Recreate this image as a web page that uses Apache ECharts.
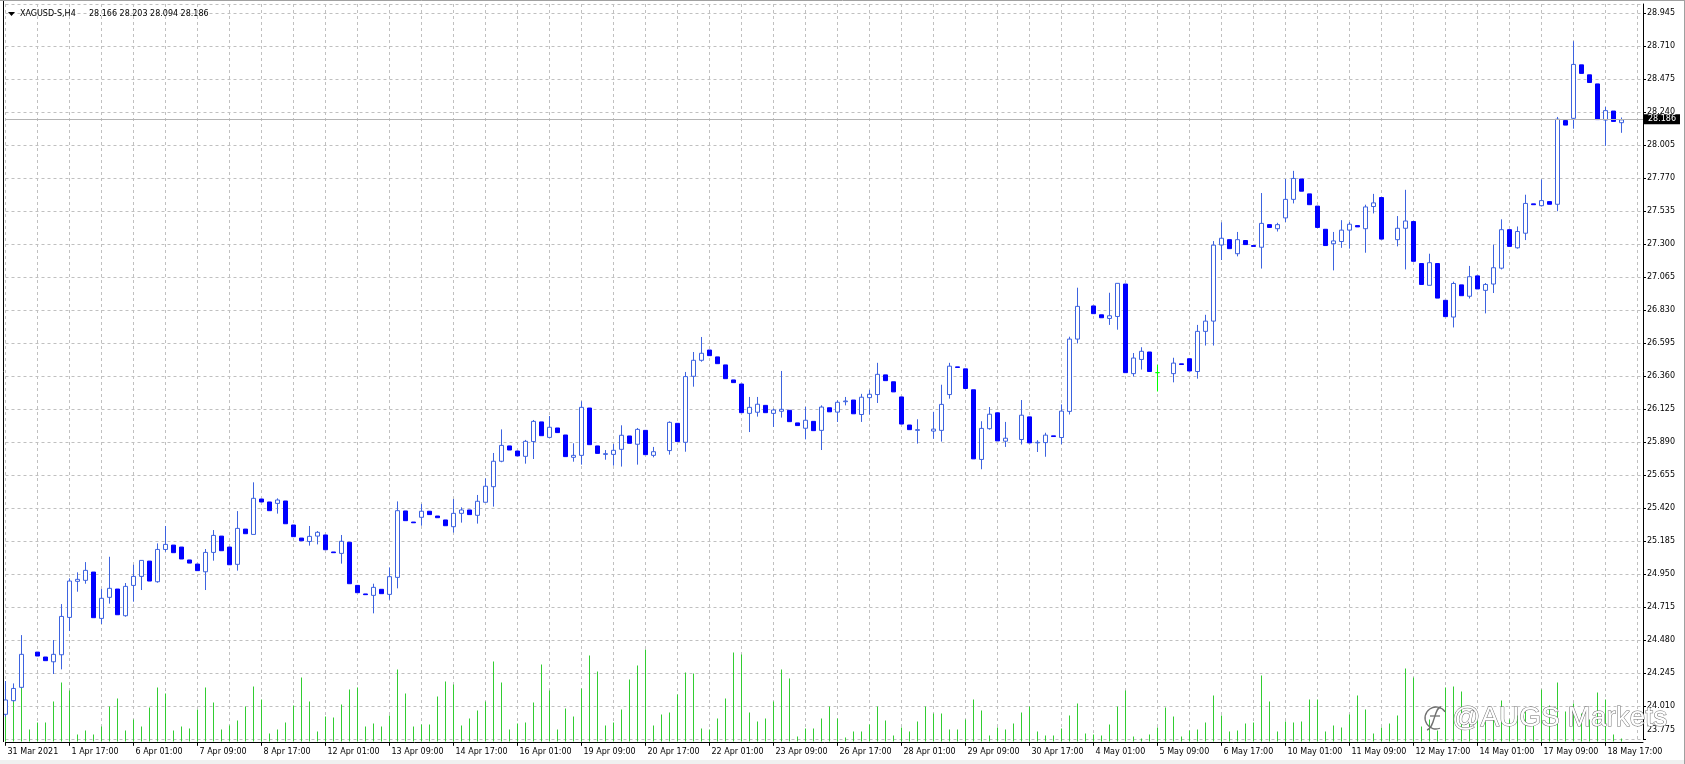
<!DOCTYPE html>
<html><head><meta charset="utf-8">
<script src="https://cdn.jsdelivr.net/npm/echarts@6/dist/echarts.min.js"></script>
<style>html,body{margin:0;padding:0;background:#fff;overflow:hidden}#c{width:1685px;height:764px}</style>
</head><body><div id="c"></div>
<script>
const symbol = 'XAGUSD-S,H4';
const opens = [
23.953,24.050,24.145,null,24.396,24.361,24.327,24.377,24.643,24.900,
24.907,24.966,24.636,24.786,24.845,24.655,24.871,24.935,25.044,24.897,
25.127,25.158,25.144,25.052,25.023,24.968,25.106,25.222,25.144,25.021,
25.272,25.234,25.486,25.465,25.455,25.472,25.301,25.208,25.184,25.222,
25.230,25.109,25.099,25.178,24.871,24.810,24.800,24.843,24.807,24.928,
25.401,25.322,25.356,25.399,25.365,25.337,25.289,25.384,25.408,25.370,
25.463,25.574,25.755,25.864,25.828,25.790,25.895,26.035,25.925,25.992,
25.942,25.783,25.797,26.134,25.864,25.804,25.804,25.840,25.935,25.876,
25.975,25.797,null,25.831,26.025,25.890,26.360,26.474,26.547,26.498,
26.441,26.334,26.305,26.096,26.104,26.153,26.096,26.111,26.118,26.028,
25.990,26.039,25.975,26.136,26.105,26.179,26.191,26.088,26.208,26.230,
26.370,26.321,26.213,26.013,25.975,null,25.970,25.975,26.230,26.427,
26.413,26.264,25.768,25.987,26.100,25.898,null,25.910,26.071,25.886,
25.888,25.936,25.924,26.110,26.625,null,26.861,26.798,26.772,26.786,
27.017,26.379,26.480,26.533,26.386,null,26.379,26.449,26.485,26.394,
26.680,26.753,27.295,27.333,27.233,27.327,27.291,27.279,27.440,27.411,
27.488,27.620,27.765,27.659,27.572,27.407,27.304,27.320,27.401,27.433,
27.411,27.569,27.633,null,27.333,27.414,27.462,27.163,27.008,27.163,
26.901,26.782,27.011,26.930,27.075,26.972,27.017,27.130,27.404,27.275,
27.379,27.588,27.575,27.604,27.585,28.181,28.197,28.578,28.507,28.442,
28.185,28.249,28.166];
const highs = [
24.190,24.173,24.517,null,24.396,24.361,24.482,24.738,24.921,24.964,
25.037,24.966,24.845,25.075,24.845,24.888,25.018,25.049,25.044,25.170,
25.294,25.158,25.144,25.052,25.023,25.130,25.265,25.222,25.144,25.400,
25.272,25.605,25.486,25.465,25.491,25.472,25.301,25.208,25.294,25.258,
25.230,25.109,25.230,25.178,24.871,24.810,24.883,24.843,24.999,25.469,
25.401,25.322,25.451,25.399,25.365,25.337,25.486,25.427,25.408,25.515,
25.633,25.814,25.982,25.864,25.828,25.907,26.049,26.035,26.077,25.992,
25.942,25.883,26.182,26.134,25.864,25.835,25.878,26.011,25.935,25.992,
25.975,25.857,null,26.039,26.025,26.391,26.533,26.640,26.547,26.498,
26.441,26.334,26.305,26.213,26.213,26.153,26.130,26.398,26.118,26.028,
26.142,26.039,26.153,26.136,26.189,26.213,26.191,26.235,26.264,26.456,
26.370,26.321,26.213,26.013,26.054,null,26.107,26.300,26.456,26.427,
26.413,26.264,26.040,26.141,26.100,26.035,null,26.191,26.071,25.905,
25.958,25.936,26.160,26.642,26.991,null,26.861,26.798,26.955,27.022,
27.017,26.526,26.567,26.533,26.442,null,26.492,26.449,26.485,26.726,
26.798,27.323,27.456,27.333,27.388,27.327,27.291,27.665,27.440,27.453,
27.765,27.823,27.765,27.659,27.572,27.407,27.388,27.472,27.459,27.433,
27.582,27.659,27.633,null,27.501,27.688,27.462,27.163,27.233,27.163,
26.901,27.034,27.011,27.146,27.075,27.024,27.298,27.478,27.404,27.427,
27.653,27.588,27.762,27.604,28.207,28.181,28.746,28.578,28.507,28.442,
28.278,28.249,28.203];
const lows = [
23.936,24.043,24.138,null,24.368,24.335,24.240,24.273,24.546,24.826,
24.883,24.641,24.596,24.741,24.662,24.648,24.755,24.838,24.902,24.890,
25.111,25.104,25.059,25.030,24.976,24.838,25.047,25.118,25.018,24.976,
25.239,25.234,25.465,25.403,25.382,25.310,25.218,25.189,25.154,25.163,
25.125,25.104,25.026,24.883,24.819,24.805,24.672,24.812,24.769,24.850,
25.332,25.317,25.296,25.375,25.353,25.296,25.247,25.318,25.375,25.311,
25.463,25.432,25.748,25.835,25.793,25.738,25.771,25.937,25.925,25.959,
25.788,25.752,25.731,25.873,25.811,25.766,25.724,25.717,25.883,25.731,
25.802,25.783,null,25.802,25.895,25.823,26.286,26.464,26.507,26.450,
26.343,26.315,26.101,25.963,26.073,26.101,25.999,26.066,26.037,26.009,
25.911,25.973,25.835,26.107,26.035,26.153,26.093,26.035,26.088,26.170,
26.329,26.249,26.020,25.980,25.881,null,25.915,25.895,26.201,26.423,
26.273,25.772,25.698,25.980,25.900,25.857,null,25.874,25.886,25.821,
25.787,25.931,25.876,26.088,26.594,null,26.806,26.777,26.726,26.692,
26.386,26.358,26.408,26.394,26.252,null,26.317,26.444,26.398,26.343,
26.579,26.579,27.188,27.269,27.214,27.298,27.285,27.127,27.420,27.391,
27.459,27.591,27.678,27.582,27.420,27.291,27.114,27.275,27.269,27.424,
27.240,27.520,27.337,null,27.285,27.121,27.179,27.014,27.008,26.917,
26.785,26.708,26.934,26.914,26.982,26.808,26.953,27.121,27.285,27.269,
27.330,27.582,27.569,27.585,27.536,28.149,28.123,28.517,28.452,28.188,
28.001,28.175,28.094];
const closes = [
24.055,24.137,24.380,null,24.368,24.335,24.380,24.650,24.902,24.914,
24.978,24.641,24.779,24.850,24.662,24.864,24.935,25.049,24.902,25.127,
25.163,25.104,25.059,25.030,24.976,25.106,25.227,25.118,25.018,25.277,
25.239,25.491,25.465,25.403,25.479,25.310,25.218,25.189,25.220,25.249,
25.125,25.104,25.185,24.883,24.819,24.805,24.857,24.812,24.933,25.403,
25.332,25.317,25.399,25.375,25.353,25.296,25.384,25.408,25.375,25.470,
25.577,25.755,25.868,25.835,25.793,25.897,26.039,25.937,25.997,25.959,
25.788,25.797,26.139,25.873,25.811,25.809,25.833,25.940,25.883,25.982,
25.802,25.823,null,26.032,25.895,26.358,26.474,26.524,26.507,26.450,
26.343,26.315,26.101,26.139,26.161,26.101,26.120,26.125,26.037,26.009,
26.047,25.973,26.141,26.107,26.175,26.184,26.093,26.211,26.232,26.374,
26.329,26.249,26.020,25.980,25.980,null,25.984,26.160,26.432,26.423,
26.273,25.772,25.989,26.090,25.900,25.919,null,26.083,25.886,25.890,
25.941,25.931,26.112,26.625,26.858,null,26.806,26.777,26.791,27.022,
26.386,26.490,26.538,26.394,26.386,null,26.454,26.444,26.398,26.680,
26.753,27.294,27.343,27.269,27.333,27.298,27.285,27.449,27.420,27.440,
27.620,27.769,27.678,27.582,27.420,27.291,27.324,27.401,27.443,27.424,
27.566,27.595,27.337,null,27.414,27.466,27.179,27.014,27.169,26.917,
26.785,27.021,26.934,27.069,26.982,27.014,27.133,27.404,27.285,27.391,
27.591,27.582,27.611,27.585,28.191,28.149,28.581,28.517,28.452,28.188,
28.252,28.175,28.186];
const volumes = [
3800,5700,6700,1200,1900,1900,4000,5900,5100,700,
1100,700,1500,3500,4300,1100,2200,1500,3400,5400,
4800,1100,1500,1300,3200,5400,3900,1200,1600,2100,
3500,5500,4200,800,1200,1900,3600,6400,4000,1000,
2500,2400,3700,5200,5400,1500,1800,1500,2600,7200,
4800,1500,1700,1700,4500,6000,5700,1600,2300,3100,
4000,8000,5900,1200,1800,1900,3900,7700,5100,1200,
3300,2500,5300,8600,7000,1600,1900,3200,6200,7600,
9200,1600,2700,2900,4700,6900,6800,1300,1200,2300,
4300,8900,8700,2900,2000,2300,4000,7200,6300,500,
1300,1300,2300,3500,2300,400,1000,1000,1700,3500,
2100,600,1400,1000,2000,3500,2800,2800,1200,1200,
2200,4200,3100,600,1400,1200,1800,2900,3500,1000,
600,600,1300,2600,3800,800,700,600,1700,3500,
5100,500,300,700,1400,3400,2500,500,1100,1200,
1900,4600,2600,1000,1100,1800,1900,6600,4000,1000,
2000,1900,2000,4200,4200,1000,1600,1400,2700,4600,
3200,800,1400,1800,2600,7300,6400,1500,2200,1100,
5400,5500,5000,1800,2400,2000,2800,4100,2200,2600,
3000,1800,5200,3600,5900,3000,3800,2800,2200,4900,
4200,700,300];
// time labels shown every 8 bars
const xTickLabels = ['31 Mar 2021','1 Apr 17:00','6 Apr 01:00','7 Apr 09:00','8 Apr 17:00','12 Apr 01:00',
'13 Apr 09:00','14 Apr 17:00','16 Apr 01:00','19 Apr 09:00','20 Apr 17:00','22 Apr 01:00','23 Apr 09:00',
'26 Apr 17:00','28 Apr 01:00','29 Apr 09:00','30 Apr 17:00','4 May 01:00','5 May 09:00','6 May 17:00',
'10 May 01:00','11 May 09:00','12 May 17:00','14 May 01:00','17 May 09:00','18 May 17:00'];
const yTickLabels = [23.775,24.010,24.245,24.480,24.715,24.950,25.185,25.420,25.655,25.890,26.125,
26.360,26.595,26.830,27.065,27.300,27.535,27.770,28.005,28.240,28.475,28.710,28.945];

const FONT = 'DejaVu Sans';
const last = opens.length - 1;
const yStep = +(yTickLabels[1] - yTickLabels[0]).toFixed(3);
const labelEvery = 8, gridEvery = 4;

const candleData = [];
for (let i = 0; i < opens.length; i++) {
  if (opens[i] == null) continue;
  const item = { value: [i, opens[i], closes[i], lows[i], highs[i]] };
  if (opens[i] === closes[i]) {
    item.itemStyle = { color: '#00ff00', color0: '#00ff00', borderColor: '#00ff00', borderColor0: '#00ff00', borderColorDoji: '#00ff00' };
  }
  candleData.push(item);
}
const volData = volumes.map((v, i) => [i, v]);

const chart = echarts.init(document.getElementById('c'), null, { renderer: 'canvas' });
const xMax = (1643 - 5.5) / 8;
const gridLine = { color: '#c0c0c0', width: 1, type: [3, 3] };
const option = {
  animation: false,
  backgroundColor: '#ffffff',
  grid: { left: 5.5, right: 42, top: 4, bottom: 24.7 },
  xAxis: [
    { type: 'value', position: 'bottom', min: 0, max: xMax, interval: gridEvery, offset: 2.5,
      axisLine: { show: true, onZero: false, lineStyle: { color: '#000', width: 1 } },
      axisTick: { show: false }, axisLabel: { show: false },
      splitLine: { show: true, lineStyle: gridLine } },
    { type: 'value', position: 'bottom', min: 0, max: xMax, interval: labelEvery, offset: 2.5,
      axisLine: { show: false, onZero: false }, splitLine: { show: false },
      axisTick: { show: true, length: 4, lineStyle: { color: '#000', width: 1 } },
      axisLabel: { show: true, align: 'left', margin: 6, padding: [0, 0, 0, 2], fontSize: 8, fontFamily: FONT, color: '#000',
        showMaxLabel: false, showMinLabel: true,
        formatter: v => { const k = v / labelEvery; return Number.isInteger(k) && xTickLabels[k] ? xTickLabels[k] : ''; } } }
  ],
  yAxis: [
    { type: 'value', position: 'right', min: yTickLabels[0], max: 29.0112, interval: yStep,
      axisLine: { show: true, onZero: false, lineStyle: { color: '#000', width: 1 } },
      axisTick: { show: true, length: 3, lineStyle: { color: '#000' } },
      axisLabel: { show: true, margin: 4, fontSize: 8, fontFamily: FONT, color: '#000', showMaxLabel: false, showMinLabel: true,
        formatter: v => Math.abs(v - yTickLabels[0]) < 1e-6 ? '{lo|' + v.toFixed(3) + '}' : v.toFixed(3),
        rich: { lo: { fontSize: 8, fontFamily: FONT, color: '#000', padding: [0, 0, 18, 0] } } },
      splitLine: { show: true, lineStyle: gridLine } },
    { type: 'value', position: 'left', show: false, min: 220, max: 220 + 735.3 * 100, splitLine: { show: false } }
  ],
  series: [
    { type: 'bar', xAxisIndex: 0, yAxisIndex: 1, data: volData, barWidth: 1, clip: false, silent: true, z: 1,
      itemStyle: { color: '#32cd32' } },
    { type: 'candlestick', xAxisIndex: 0, yAxisIndex: 0, data: candleData,
      dimensions: ['idx', 'open', 'close', 'lowest', 'highest'],
      encode: { x: 'idx', y: ['open', 'close', 'lowest', 'highest'] },
      barWidth: 4, clip: false, silent: true, z: 2,
      itemStyle: { color: '#ffffff', color0: '#0000ff', borderColor: '#3d63e0', borderColor0: '#0000ff', borderColorDoji: '#3d63e0', borderWidth: 1 },
      markLine: { silent: true, symbol: ['none', 'none'], animation: false,
        data: [{ yAxis: closes[last] }],
        lineStyle: { color: '#b4b4b4', type: 'solid', width: 1 },
        label: { show: true, position: 'end', distance: 1, formatter: closes[last].toFixed(3),
          backgroundColor: '#000', color: '#fff', fontFamily: FONT, fontSize: 8, padding: [1, 4, 1, 4] },
        emphasis: { disabled: true } } }
  ],
  graphic: [
    { type: 'rect', shape: { x: 0, y: 760, width: 1685, height: 4 }, style: { fill: '#f0f0f0' }, silent: true },
    { type: 'line', shape: { x1: 3.5, y1: 1, x2: 3.5, y2: 742 }, style: { stroke: '#000', lineWidth: 1 }, silent: true, z: 50 },
    { type: 'line', shape: { x1: 0, y1: 0.5, x2: 1685, y2: 0.5 }, style: { stroke: '#a0a0a0', lineWidth: 1 }, silent: true, z: 50 },
    { type: 'line', shape: { x1: 1684.5, y1: 0, x2: 1684.5, y2: 764 }, style: { stroke: '#a0a0a0', lineWidth: 1 }, silent: true, z: 50 },
    { type: 'polygon', shape: { points: [[8, 12], [15, 12], [11.5, 16]] }, style: { fill: '#000' }, silent: true, z: 50 },
    { type: 'text', x: 20, y: 14, style: { text: symbol, fontFamily: FONT, fontSize: 8, fill: '#000', verticalAlign: 'middle' }, silent: true, z: 50 },
    { type: 'text', x: 89, y: 14, style: { text: [opens[last], highs[last], lows[last], closes[last]].map(v => v.toFixed(3)).join(' '),
        fontFamily: FONT, fontSize: 8, fill: '#000', verticalAlign: 'middle' }, silent: true, z: 50 },
    { type: 'arc', shape: { cx: 1436, cy: 718, r: 11, startAngle: -0.6, endAngle: 1.2, clockwise: false },
      style: { stroke: '#707070', fill: null, lineWidth: 1.3 }, silent: true, z: 60 },
    { type: 'bezierCurve', shape: { x1: 1441, y1: 707, cpx1: 1434, cpy1: 707, cpx2: 1435, cpy2: 728, x2: 1427, y2: 730 },
      style: { stroke: '#707070', fill: null, lineWidth: 1.3 }, silent: true, z: 60 },
    { type: 'line', shape: { x1: 1430, y1: 716, x2: 1440, y2: 716 }, style: { stroke: '#707070', lineWidth: 1.3 }, silent: true, z: 60 },
    { type: 'text', x: 1452, y: 718, style: { text: '@AUGS Markets', fontFamily: 'Liberation Sans', fontSize: 28, fill: '#ffffff',
        stroke: '#707070', lineWidth: 1, verticalAlign: 'middle' }, silent: true, z: 60 }
  ]
};
chart.setOption(option);
</script>
</body></html>
